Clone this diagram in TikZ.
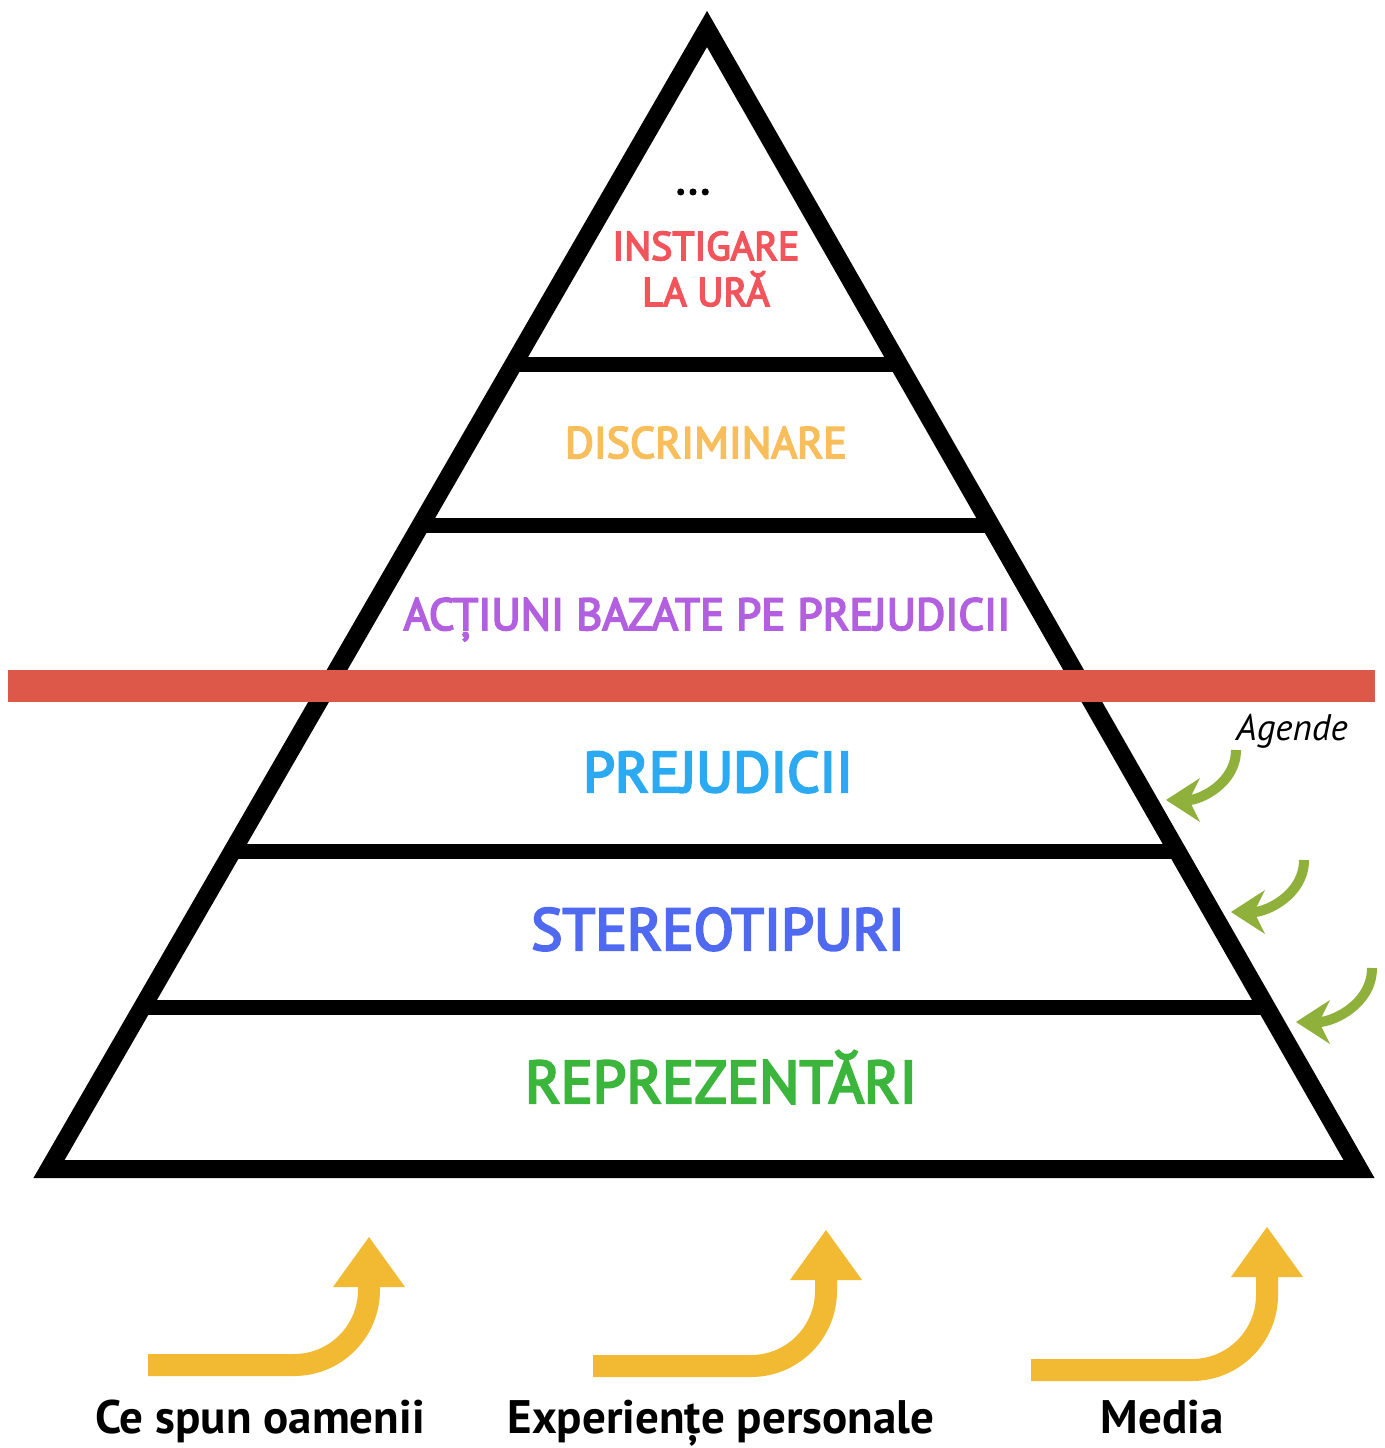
\documentclass[tikz,border=0pt]{standalone}
\usepackage{fontspec}
\setmainfont{PT Sans}
\newfontfamily\levelfont[FakeBold=4]{PT Sans}
\usepackage{xcolor}
\usetikzlibrary{arrows.meta}

\definecolor{urared}{HTML}{F2545B}
\definecolor{discorange}{HTML}{F9BE5C}
\definecolor{actpurple}{HTML}{B360E0}
\definecolor{prejblue}{HTML}{2BAAF2}
\definecolor{stereoblue}{HTML}{4F6AF0}
\definecolor{reprgreen}{HTML}{3CB53C}
\definecolor{bandred}{HTML}{DD5848}
\definecolor{feedyellow}{HTML}{F2BA33}
\definecolor{agendagreen}{HTML}{90B03C}

\begin{document}
\begin{tikzpicture}[x=1pt, y=-1pt,
    level/.style={anchor=base, font=\levelfont\fontsize{#1}{#1}\selectfont},
    cause/.style={anchor=base, inner sep=0pt, font=\fontsize{47}{47}\selectfont\bfseries},
    feed/.style={draw=feedyellow, line width=22pt, rounded corners=75pt,
        -{Triangle[length=50pt, width=72pt, line width=0pt]}},
    agenda/.style={draw=agendagreen, line width=10pt,
        -{Stealth[length=34pt, width=44pt, inset=11pt, line width=0pt]}}]
    \useasboundingbox (0,0) rectangle (1384,1448);

    % Pyramid
    \coordinate (top) at (707,29);
    \coordinate (left) at (49,1169);
    \coordinate (right) at (1359,1169);
    \begin{scope}
        \clip (top) -- (left) -- (right) -- cycle;
        \foreach \y in {364, 525, 851, 1007}
            \draw[line width=15pt] (0,\y) -- (1384,\y);
    \end{scope}
    \draw[line width=18pt, miter limit=10] (top) -- (left) -- (right) -- cycle;
    \fill[bandred] (8,670) rectangle (1375,702);

    % Nodes
    \node[level=44] (dots) at (693,194) {...};
    \node[level=40, text=urared, align=center, font=\levelfont\fontsize{40}{46}\selectfont] (instigare) at (706,306) {INSTIGARE\\LA URĂ};
    \node[level=44, text=discorange] (discriminare) at (706,458) {DISCRIMINARE};
    \node[level=45, text=actpurple] (actiuni) at (707,630) {ACȚIUNI BAZATE PE PREJUDICII};
    \node[level=57, text=prejblue] (prejudicii) at (718,792) {PREJUDICII};
    \node[level=59, text=stereoblue] (stereotipuri) at (718,950) {STEREOTIPURI};
    \node[level=60, text=reprgreen] (reprezentari) at (721,1103) {REPREZENTĂRI};
    \node[anchor=base, font=\fontsize{37}{37}\selectfont\itshape] (agende) at (1292,740) {Agende};

    \node[cause] (oameni) at (260,1433) {Ce spun oamenii};
    \node[cause] (experiente) at (721,1433) {Experiențe personale};
    \node[cause] (media) at (1162,1433) {Media};

    % Connections
    \coordinate (f1) at (148,1365);
    \coordinate (t1) at (369,1237);
    \coordinate (f2) at (593,1366);
    \coordinate (t2) at (826,1230);
    \coordinate (f3) at (1031,1370);
    \coordinate (t3) at (1267,1227);
    \draw[feed] (f1) -| (t1);
    \draw[feed] (f2) -| (t2);
    \draw[feed] (f3) -| (t3);

    \coordinate (a1) at (1236,750);
    \coordinate (b1) at (1166,800);
    \coordinate (a2) at (1304,860);
    \coordinate (b2) at (1231,912);
    \coordinate (a3) at (1372,968);
    \coordinate (b3) at (1296,1022);
    \draw[agenda] (a1) to[out=-90, in=0] (b1);
    \draw[agenda] (a2) to[out=-90, in=0] (b2);
    \draw[agenda] (a3) to[out=-90, in=0] (b3);
\end{tikzpicture}
\end{document}
